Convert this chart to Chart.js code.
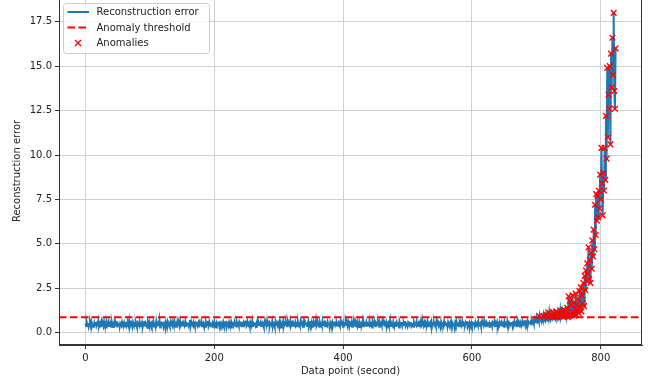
<!DOCTYPE html>
<html>
<head>
<meta charset="utf-8">
<script src="https://cdn.jsdelivr.net/npm/chart.js@4.4.0/dist/chart.umd.min.js"></script>
<style>
  html, body { margin: 0; padding: 0; background: #fff; overflow: hidden; }
  #wrap { width: 649px; height: 385px; overflow: hidden; position: relative; }
  #chart { position: absolute; left: 0; top: -3px; }
</style>
</head>
<body>
<div id="wrap"><canvas id="chart" width="649" height="388"></canvas></div>
<script>
// reconstruction error per second (index = data point)
const errors = [
  0.52,0.38,0.61,0.44,0.55,0.33,0.49,0.58,0.41,0.63,0.36,0.50,0.47,0.29,0.56,
  0.43,0.60,0.39,0.52,0.46,0.67,0.35,0.48,0.54,0.31,0.59,0.42,0.51,0.37,0.62,
  0.45,0.53,0.30,0.57,0.40,0.49,0.64,0.38,0.46,0.55,0.34,0.60,0.43,0.50,0.27,
  0.58,0.44,0.52,0.36,0.65,0.41,0.47,0.56,0.32,0.53,0.45,0.39,0.61,0.48,0.42,
  0.55,0.30,0.50,0.62,0.37,0.46,0.54,0.40,0.68,0.35,0.49,0.57,0.43,0.33,0.59,
  0.47,0.52,0.38,0.60,0.44,0.31,0.56,0.49,0.41,0.63,0.36,0.51,0.45,0.58,0.34,
  0.50,0.42,0.66,0.39,0.53,0.47,0.28,0.57,0.44,0.61,0.37,0.48,0.55,0.40,0.52,
  0.35,0.59,0.46,0.51,0.33,0.64,0.42,0.49,0.56,0.38,0.70,0.30,0.47,0.54,0.43,
  0.60,0.37,0.52,0.45,0.58,0.32,0.48,0.63,0.40,0.55,0.46,0.35,0.57,0.44,0.50,
  0.39,0.62,0.47,0.34,0.56,0.43,0.51,0.29,0.60,0.45,0.53,0.38,0.65,0.41,0.49,
  0.54,0.36,0.58,0.48,0.42,0.61,0.33,0.52,0.46,0.57,0.39,0.50,0.72,0.31,0.47,
  0.55,0.44,0.38,0.60,0.49,0.35,0.53,0.45,0.62,0.40,0.51,0.30,0.58,0.46,0.43,
  0.64,0.37,0.50,0.56,0.41,0.47,0.33,0.59,0.44,0.52,0.68,0.36,0.48,0.55,0.42,
  0.49,0.58,0.34,0.53,0.45,0.61,0.39,0.46,0.29,0.57,0.50,0.43,0.63,0.38,0.52,
  0.41,0.55,0.47,0.36,0.60,0.44,0.51,0.40,0.66,0.33,0.54,0.48,0.37,0.59,0.45,
  0.53,0.30,0.57,0.46,0.62,0.39,0.49,0.55,0.42,0.35,0.61,0.47,0.52,0.40,0.58,
  0.44,0.63,0.37,0.50,0.45,0.56,0.32,0.54,0.48,0.69,0.38,0.46,0.57,0.43,0.51,
  0.36,0.59,0.48,0.41,0.65,0.34,0.53,0.47,0.58,0.40,0.50,0.28,0.62,0.45,0.55,
  0.42,0.51,0.60,0.37,0.49,0.56,0.44,0.31,0.58,0.46,0.53,0.39,0.67,0.43,0.48,
  0.57,0.35,0.52,0.46,0.40,0.63,0.38,0.54,0.49,0.33,0.60,0.45,0.51,0.42,0.56,
  0.48,0.61,0.39,0.55,0.30,0.50,0.44,0.64,0.37,0.53,0.47,0.58,0.41,0.36,0.62,
  0.45,0.52,0.43,0.66,0.38,0.49,0.57,0.35,0.54,0.46,0.40,0.61,0.50,0.32,0.55,
  0.59,0.42,0.48,0.37,0.63,0.45,0.52,0.41,0.56,0.29,0.60,0.47,0.53,0.44,0.38,
  0.51,0.64,0.36,0.49,0.55,0.43,0.58,0.34,0.47,0.62,0.40,0.53,0.46,0.71,0.39,
  0.48,0.55,0.42,0.33,0.59,0.47,0.51,0.38,0.65,0.44,0.50,0.57,0.36,0.53,0.45,
  0.40,0.61,0.46,0.54,0.31,0.56,0.43,0.49,0.60,0.37,0.52,0.45,0.63,0.41,0.48,
  0.55,0.39,0.50,0.58,0.44,0.35,0.62,0.47,0.53,0.42,0.57,0.30,0.51,0.46,0.60,
  0.43,0.52,0.37,0.64,0.48,0.55,0.40,0.45,0.59,0.34,0.50,0.66,0.42,0.54,0.38,
  0.57,0.46,0.61,0.39,0.49,0.32,0.56,0.44,0.52,0.47,0.63,0.36,0.58,0.41,0.50,
  0.45,0.60,0.35,0.53,0.48,0.42,0.67,0.38,0.51,0.55,0.30,0.59,0.44,0.49,0.54,
  0.37,0.56,0.50,0.43,0.62,0.46,0.34,0.58,0.45,0.52,0.40,0.64,0.48,0.55,0.41,
  0.53,0.44,0.59,0.36,0.50,0.57,0.42,0.48,0.69,0.33,0.54,0.46,0.39,0.61,0.47,
  0.50,0.38,0.55,0.62,0.41,0.47,0.53,0.29,0.58,0.44,0.51,0.60,0.37,0.49,0.56,
  0.43,0.65,0.40,0.52,0.46,0.35,0.57,0.49,0.54,0.42,0.61,0.38,0.48,0.55,0.33,
  0.59,0.47,0.51,0.44,0.63,0.39,0.50,0.56,0.36,0.53,0.45,0.68,0.41,0.49,0.57,
  0.40,0.54,0.31,0.58,0.48,0.45,0.62,0.37,0.52,0.46,0.55,0.42,0.60,0.34,0.51,
  0.47,0.59,0.43,0.50,0.36,0.64,0.45,0.53,0.40,0.57,0.49,0.32,0.61,0.44,0.55,
  0.52,0.38,0.66,0.46,0.51,0.42,0.56,0.35,0.60,0.48,0.43,0.54,0.39,0.63,0.47,
  0.55,0.44,0.50,0.30,0.58,0.45,0.62,0.41,0.49,0.53,0.37,0.57,0.46,0.51,0.40,
  0.61,0.36,0.54,0.47,0.43,0.59,0.50,0.65,0.38,0.52,0.45,0.56,0.33,0.48,0.58,
  0.42,0.53,0.46,0.60,0.39,0.55,0.31,0.51,0.57,0.44,0.62,0.40,0.49,0.54,0.37,
  0.58,0.47,0.52,0.41,0.67,0.45,0.50,0.36,0.56,0.48,0.43,0.61,0.34,0.53,0.46,
  0.51,0.39,0.57,0.49,0.44,0.63,0.38,0.55,0.47,0.60,0.35,0.52,0.45,0.58,0.42,
  0.54,0.62,0.40,0.50,0.56,0.33,0.59,0.46,0.52,0.43,0.66,0.48,0.41,0.57,0.50,
  0.45,0.53,0.60,0.38,0.55,0.49,0.64,0.42,0.51,0.58,0.36,0.61,0.47,0.54,0.44,
  0.59,0.48,0.56,0.41,0.63,0.52,0.46,0.70,0.43,0.57,0.50,0.65,0.45,0.60,0.53,
  // ~690 onwards: error starts to climb
  0.55,0.62,0.48,0.70,0.58,0.66,0.52,0.74,0.61,0.69,0.57,0.78,0.64,0.72,0.60,
  0.92,0.68,0.75,0.63,0.81,0.70,0.95,0.66,0.84,0.72,1.02,0.78,0.69,0.88,0.74,
  1.12,0.80,0.71,0.93,0.85,1.18,0.76,0.90,1.05,0.82,0.74,1.20,0.88,0.79,1.08,
  0.86,0.95,1.25,0.81,0.92,1.15,0.84,1.30,0.90,1.10,0.85,1.22,0.95,1.40,0.88,
  2.05,0.95,1.80,1.05,1.55,0.98,2.10,1.15,1.70,0.96,1.35,2.20,1.02,1.60,1.25,
  1.90,1.10,2.35,1.45,2.55,1.20,2.10,1.65,2.80,1.50,3.20,2.40,3.50,2.90,3.90,
  3.30,4.80,3.00,4.10,2.80,4.50,3.60,5.20,4.30,5.80,4.70,7.20,5.50,7.80,6.30,
  7.70,6.50,8.00,7.00,8.90,7.50,10.40,8.40,6.60,9.00,8.00,10.40,8.60,12.20,9.80,
  14.90,11.00,13.40,12.60,15.00,10.60,15.70,13.80,16.60,14.50,18.00,13.60,12.60,16.00
];
const threshold = 0.87;
const xTicks = [0, 200, 400, 600, 800];
const yTicks = [0, 2.5, 5, 7.5, 10, 12.5, 15, 17.5];
const xLimits = [-41, 864];
const yLimits = [-0.69, 18.89];

const errorPoints = errors.map((v, i) => ({ x: i, y: v }));
const anomalyPoints = errorPoints.filter(p => p.y > threshold);
const thresholdPoints = xLimits.map(x => ({ x: x, y: threshold }));

Chart.defaults.font.family = 'DejaVu Sans';
Chart.defaults.font.size = 10;
Chart.defaults.color = '#222';

const gridColor = '#d0d0d0';
const axisColor = '#333';

// box around the plot + matplotlib style legend inside the axes
const framePlugin = {
  id: 'frame',
  afterDraw(chart) {
    const c = chart.ctx;
    const a = chart.chartArea;
    c.save();
    c.strokeStyle = axisColor;
    c.lineWidth = 1;
    c.strokeRect(a.left + 0.5, a.top + 0.5, a.right - a.left - 1, a.bottom - a.top - 1);

    const bx = a.left + 4, by = a.top + 6, bw = 146, bh = 50;
    c.globalAlpha = 0.8;
    c.fillStyle = '#fff';
    c.beginPath();
    c.roundRect(bx + 0.5, by + 0.5, bw, bh, 3);
    c.fill();
    c.globalAlpha = 1;
    c.strokeStyle = '#cccccc';
    c.stroke();

    const ds = chart.data.datasets;
    const rows = [by + 9, by + 24.5, by + 40];
    c.font = '10px "DejaVu Sans"';
    c.textBaseline = 'middle';
    c.fillStyle = '#222';
    ds.forEach((d, i) => {
      const y = rows[i];
      if (d.showLine === false) {
        const cx = bx + 15, r = 3;
        c.strokeStyle = d.pointBorderColor;
        c.lineWidth = d.pointBorderWidth;
        c.beginPath();
        c.moveTo(cx - r, y - r); c.lineTo(cx + r, y + r);
        c.moveTo(cx - r, y + r); c.lineTo(cx + r, y - r);
        c.stroke();
      } else {
        c.strokeStyle = d.borderColor;
        c.lineWidth = d.borderWidth;
        c.setLineDash(d.borderDash || []);
        c.beginPath();
        c.moveTo(bx + 4.5, y);
        c.lineTo(bx + 26, y);
        c.stroke();
        c.setLineDash([]);
      }
      c.fillText(d.label, bx + 33.5, y + 0.5);
    });
    c.restore();
  }
};

new Chart(document.getElementById('chart'), {
  type: 'line',
  data: {
    datasets: [
      {
        label: 'Reconstruction error',
        data: errorPoints,
        borderColor: '#1f77b4',
        borderWidth: 2,
        pointRadius: 0,
        tension: 0,
        order: 3
      },
      {
        label: 'Anomaly threshold',
        data: thresholdPoints,
        borderColor: '#ff0000',
        borderWidth: 2,
        borderDash: [7.5, 3.5],
        pointRadius: 0,
        order: 2
      },
      {
        label: 'Anomalies',
        data: anomalyPoints,
        showLine: false,
        pointStyle: 'crossRot',
        pointRadius: 4,
        pointBorderColor: '#ff0000',
        pointBorderWidth: 1.4,
        pointBackgroundColor: '#ff0000',
        order: 1
      }
    ]
  },
  options: {
    responsive: false,
    animation: false,
    events: [],
    layout: { autoPadding: false, padding: { top: 0, right: 7, bottom: 0, left: 0 } },
    plugins: {
      legend: { display: false },
      tooltip: { enabled: false }
    },
    scales: {
      x: {
        type: 'linear',
        min: xLimits[0],
        max: xLimits[1],
        afterBuildTicks: s => { s.ticks = xTicks.map(v => ({ value: v })); },
        afterFit: s => { s.height = 40; s.paddingLeft = 0; s.paddingRight = 0; },
        ticks: { padding: 3, maxRotation: 0, color: '#222' },
        grid: { color: gridColor, tickColor: axisColor, tickLength: 4, lineWidth: 1 },
        border: { color: axisColor, width: 1 },
        title: { display: true, text: 'Data point (second)', color: '#222', padding: { top: 0, bottom: 8 } }
      },
      y: {
        type: 'linear',
        min: yLimits[0],
        max: yLimits[1],
        afterBuildTicks: s => { s.ticks = yTicks.map(v => ({ value: v })); },
        afterFit: s => { s.width = 59; s.paddingTop = 0; s.paddingBottom = 0; },
        ticks: { padding: 3, color: '#222', callback: v => v.toFixed(1) },
        grid: { color: gridColor, tickColor: axisColor, tickLength: 4, lineWidth: 1 },
        border: { color: axisColor, width: 1 },
        title: { display: true, text: 'Reconstruction error', color: '#222', padding: { top: 11, bottom: 0 } }
      }
    }
  },
  plugins: [framePlugin]
});
</script>
</body>
</html>
